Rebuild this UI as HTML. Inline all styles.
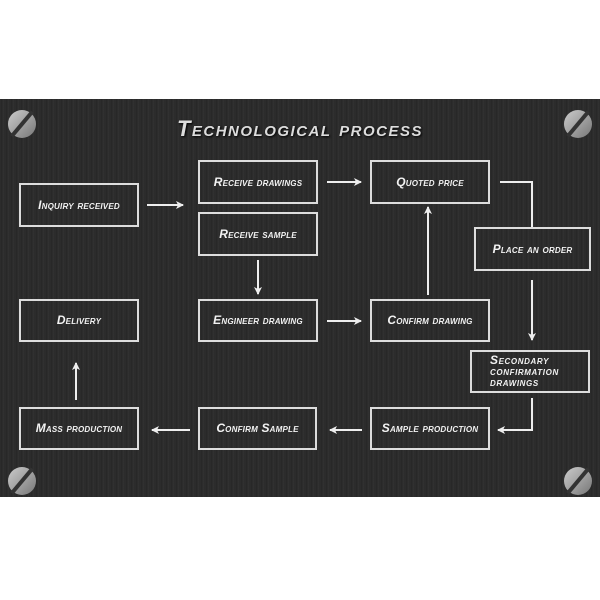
<!DOCTYPE html>
<html><head><style>
body{margin:0;width:600px;height:600px;background:#fff;position:relative;overflow:hidden;font-family:"Liberation Sans",sans-serif}
#p{position:absolute;left:0;top:99px;width:600px;height:398px;background:repeating-linear-gradient(90deg,#2e2e2e 0,#262626 2px,#333 3px,#2a2a2a 5px);}
.b{position:absolute;border:2px solid #ddd;box-sizing:border-box;color:#f2f2f2;font-weight:bold;font-style:italic;font-variant:small-caps;font-size:12px;display:flex;align-items:center;justify-content:center;text-align:center;line-height:11px;letter-spacing:.2px}
.s{position:absolute;width:28px;height:28px;border-radius:50%;background:linear-gradient(135deg,#ccc,#777);box-sizing:border-box}
.s:after{content:"";position:absolute;left:-2px;top:12px;width:32px;height:4px;background:#333;transform:rotate(-50deg)}
#t{position:absolute;left:0;width:600px;top:116px;text-align:center;font-size:22px;font-weight:bold;font-style:italic;font-variant:small-caps;color:#ddd;text-shadow:1px 1px 2px #000;letter-spacing:1.5px}
</style></head><body>
<div id="p"></div>
<div class="s" style="left:8px;top:110px"></div>
<div class="s" style="left:564px;top:110px"></div>
<div class="s" style="left:8px;top:467px"></div>
<div class="s" style="left:564px;top:467px"></div>
<div id="t">Technological process</div>
<div class="b" style="left:19px;top:183px;width:120px;height:44px">Inquiry received</div>
<div class="b" style="left:198px;top:160px;width:120px;height:44px">Receive drawings</div>
<div class="b" style="left:198px;top:212px;width:120px;height:44px">Receive sample</div>
<div class="b" style="left:370px;top:160px;width:120px;height:44px">Quoted price</div>
<div class="b" style="left:474px;top:227px;width:117px;height:44px">Place an order</div>
<div class="b" style="left:19px;top:299px;width:120px;height:43px">Delivery</div>
<div class="b" style="left:198px;top:299px;width:120px;height:43px">Engineer drawing</div>
<div class="b" style="left:370px;top:299px;width:120px;height:43px">Confirm drawing</div>
<div class="b" style="left:470px;top:350px;width:120px;height:43px;justify-content:flex-start;text-align:left;padding-left:18px;letter-spacing:.6px">Secondary<br>confirmation<br>drawings</div>
<div class="b" style="left:19px;top:407px;width:120px;height:43px">Mass production</div>
<div class="b" style="left:198px;top:407px;width:119px;height:43px">Confirm Sample</div>
<div class="b" style="left:370px;top:407px;width:120px;height:43px">Sample production</div>
<svg width="600" height="600" style="position:absolute;left:0;top:0" fill="none" stroke="#eee" stroke-width="2">
<defs><marker id="a" markerWidth="8" markerHeight="8" refX="7" refY="4" orient="auto" markerUnits="userSpaceOnUse"><path d="M0,0L8,4L0,8L2,4Z" fill="#eee" stroke="none"/></marker></defs>
<path d="M147 205H183" marker-end="url(#a)"/>
<path d="M327 182H361" marker-end="url(#a)"/>
<path d="M500 182H532V227"/>
<path d="M258 260V294" marker-end="url(#a)"/>
<path d="M327 321H361" marker-end="url(#a)"/>
<path d="M428 295V207" marker-end="url(#a)"/>
<path d="M532 280V340" marker-end="url(#a)"/>
<path d="M532 398V430H498" marker-end="url(#a)"/>
<path d="M362 430H330" marker-end="url(#a)"/>
<path d="M190 430H152" marker-end="url(#a)"/>
<path d="M76 400V363" marker-end="url(#a)"/>
</svg>
</body></html>
